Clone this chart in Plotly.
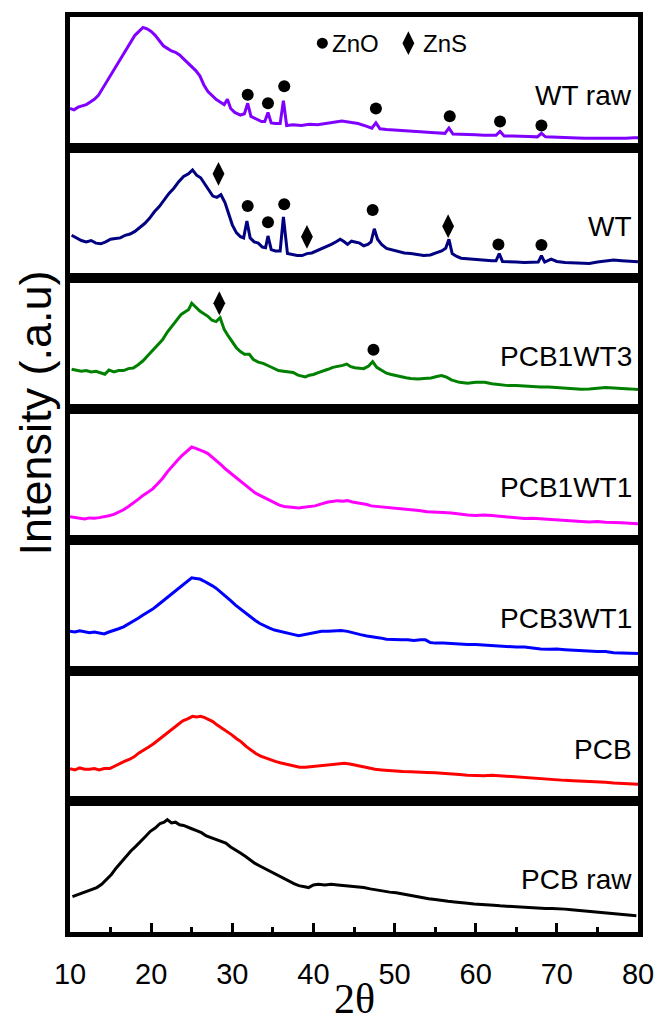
import plotly.graph_objects as go
from plotly.subplots import make_subplots

# ---------------- data (2theta, normalised intensity a.u.) ----------------
wtraw_x = [10, 10.5, 11, 11.5, 12, 12.5, 13, 13.5, 14, 14.5, 15, 15.5, 16, 16.5, 17, 17.5, 18, 18.5, 19, 19.5,
           20, 20.5, 21, 21.5, 22, 22.5, 23, 23.5, 24, 24.5, 25, 25.5, 26, 26.5, 27, 27.5, 28, 28.5, 29, 29.4,
           29.8, 30.3, 31, 31.5, 31.9, 32.3, 33, 33.6, 34, 34.4, 34.8, 35.3, 35.9, 36.3, 36.7, 37.5, 38.5, 39.5,
           40.5, 41.5, 42.5, 43.5, 44.5, 45.5, 46.5, 47.2, 47.7, 48.2, 49, 50, 51, 52, 53, 54, 55, 56.2, 56.7,
           57.2, 58, 59, 60, 61, 62.5, 63, 63.5, 64.5, 65.5, 66.5, 67.6, 68.1, 68.6, 69.5, 70.5, 71.5, 72.5,
           73.5, 74.5, 75.5, 76.5, 77.5, 78.5, 79.5, 80]
wtraw_y = [30, 29, 31, 32, 33, 35, 37, 40, 45, 50, 55, 60, 66, 71, 76, 81, 86, 89, 92, 91,
           89, 86, 82, 78, 76, 74, 73, 71, 68, 65, 62, 59, 55, 48, 43, 40, 37, 35, 33, 37,
           30, 27, 25, 26, 34, 24, 22, 20, 20, 27, 19, 18.5, 18.5, 36, 17, 17.5, 17, 18,
           17.5, 18.5, 19, 20.5, 19.5, 18.5, 16.5, 15, 19, 14.5, 14, 13.5, 13, 12.5, 12, 12, 11.5, 11, 15,
           10.5, 10.5, 10, 10, 9.5, 9.5, 12.5, 9, 9, 8.5, 8.5, 8.3, 11, 8.3, 8, 8, 7.8, 7.5,
           7.3, 7.3, 7, 7, 7.2, 7.3, 7.6, 7.6]

wt_x = [10.2, 10.8, 11.4, 12, 12.6, 13.2, 13.8, 14.4, 15, 15.6, 16.2, 16.8, 17.4, 18, 18.6, 19.2, 19.8, 20.4,
        21, 21.6, 22.2, 22.8, 23.4, 24, 24.6, 25.1, 25.6, 26.1, 26.6, 27.1, 27.6, 28.1, 28.6, 29.1, 29.5, 30,
        30.5, 31, 31.4, 31.8, 32.2, 32.7, 33.2, 33.7, 34.1, 34.4, 34.8, 35.3, 35.9, 36.3, 36.8, 37.4, 38, 38.6,
        39.2, 39.8, 40.4, 41, 41.6, 42.2, 42.8, 43.3, 43.8, 44.2, 44.7, 45.2, 45.7, 46.2, 46.7, 47.1, 47.5,
        47.9, 48.4, 49, 49.6, 50.4, 51.2, 52, 52.8, 53.6, 54.4, 55.2, 55.8, 56.3, 56.7, 57.1, 57.6, 58.2, 59,
        60, 61, 62, 62.5, 62.9, 63.3, 64, 65, 66, 67, 67.7, 68.1, 68.5, 69.3, 70, 71, 72, 73, 74, 75, 76, 77,
        78, 79, 80]
wt_y = [33, 31, 29, 28, 29, 27, 26.5, 28, 30, 30.5, 31, 33, 34, 36, 39, 42, 46, 51,
        55, 60, 65, 69, 74, 78, 80, 83, 79, 77, 72, 68, 63, 62, 64, 58, 50, 41,
        35, 32, 31, 44, 31, 28, 27, 24, 23.5, 32.5, 22, 21, 21, 47, 19, 18, 17.5, 17.5,
        19, 19.5, 21, 22.5, 24, 26, 28, 30, 28, 26, 28.5, 27.5, 27, 25, 26, 28, 38,
        30, 26, 23, 22, 21, 19.5, 19, 18.5, 17.5, 18, 19.5, 21, 23, 30, 19, 17, 15.5, 15,
        14.5, 14, 13.5, 13.5, 19, 13, 13, 12.5, 12.2, 12.5, 12.5, 17.3, 12.5, 14.7, 13, 12.2, 12, 11.5, 11.5,
        12.5, 13.5, 14, 13.5, 13, 12.7]

p13_x = [10.2, 10.8, 11.4, 12, 12.6, 13.2, 13.8, 14.3, 14.8, 15.4, 16, 16.6, 17.2, 17.8, 18.4, 19, 19.6, 20.2,
         20.8, 21.4, 22, 22.6, 23.2, 23.7, 24.2, 24.6, 25, 25.5, 26, 26.5, 27, 27.5, 28, 28.5, 29, 29.5, 30,
         30.5, 31, 31.5, 32.1, 32.6, 33.2, 33.8, 34.5, 35.1, 35.7, 36.3, 36.9, 37.5, 38.1, 38.6, 39, 39.5, 40,
         40.6, 41.2, 41.8, 42.4, 43, 43.6, 44.1, 44.6, 45.1, 45.7, 46.2, 46.8, 47.3, 47.8, 48.4, 49, 49.6, 50.2,
         50.8, 51.4, 52, 52.9, 53.6, 54.5, 55.2, 55.8, 56.4, 57, 58, 59, 60, 61.1, 62, 63, 64, 65, 66, 67, 68,
         69, 70, 71, 72, 73, 74, 75, 76, 77, 78, 79, 80]
p13_y = [30.5, 30, 29, 29.5, 28.5, 29, 27.5, 26.7, 30, 28.5, 29.5, 29.5, 31, 31.5, 34, 37, 41, 45,
         49, 53, 59, 64, 69, 72.5, 74.5, 76, 81, 78, 75, 73, 71, 68, 67, 70, 61, 56, 51,
         47, 44, 42, 42, 38, 36, 35, 33, 31, 29.5, 29, 28.5, 28, 26, 25, 24.7, 26, 26.5,
         28, 29, 30.5, 32, 32.5, 33.5, 34.5, 32.5, 31.7, 31.5, 31, 33, 36.3, 32, 29.5, 27.5, 26.5, 25.5,
         24.5, 24, 23.5, 23, 23.5, 23.8, 25, 25.7, 24.5, 22.4, 20.5, 19.8, 20.5, 20.5, 19.5, 18.5, 18, 18,
         17.5, 17.5, 17, 17, 16.5, 16, 15.5, 15.2, 15.5, 16, 16.5, 16.2, 16, 15.5, 15]

p11_x = [10, 10.6, 11.2, 11.8, 12.4, 13, 13.6, 14.2, 14.8, 15.4, 16, 16.6, 17.2, 17.8, 18.4, 19, 19.6, 20.2,
         20.8, 21.4, 22, 22.6, 23.2, 23.8, 24.4, 25, 25.5, 26, 26.5, 27, 27.5, 28, 28.6, 29.2, 29.8, 30.4, 31,
         31.6, 32.2, 32.8, 33.4, 34, 34.6, 35.2, 35.8, 36.4, 37, 37.6, 38.2, 38.8, 39.4, 40.2, 41, 41.8, 42.5,
         43, 43.6, 44.2, 44.8, 45.4, 46, 46.6, 47.1, 48, 49, 50, 51, 52, 53, 54, 55, 56, 57, 58, 59, 60, 61,
         62, 63, 64, 65, 66, 67, 68, 69, 70, 71, 72, 73, 74, 75, 76, 77, 78, 79, 80]
p11_y = [17.6, 17, 16.5, 16, 16.8, 16.5, 17, 17.5, 18.5, 19.5, 21, 23, 25.5, 28, 31, 34, 36.5, 39,
         43, 47, 52, 56.5, 60.5, 64.5, 68, 71, 70, 69, 67.5, 66, 63.5, 61, 57.5, 54, 51, 48, 45,
         42, 39, 36, 34, 32, 30, 28, 26.5, 25.5, 25, 24.5, 24.4, 25, 25.5, 26, 27.5, 29, 29.5,
         30, 29.5, 30, 29, 28.5, 27.5, 27, 26, 25.5, 24.5, 24.4, 23.5, 23, 22.5, 21.5, 21.5, 21, 20.5, 19.5,
         19, 18.6, 19, 18.6, 18, 17.5, 17, 16.3, 16.5, 16, 15.5, 15, 14.7, 14.5, 14, 13.7, 14, 13.5, 13,
         13, 12.7, 12.4]

p31_x = [10, 10.6, 11.2, 11.8, 12.4, 13, 13.6, 14.2, 14.8, 15.4, 16, 16.6, 17.2, 17.8, 18.4, 19, 19.6, 20.2,
         20.8, 21.4, 22, 22.6, 23.2, 23.8, 24.4, 25, 25.5, 26, 26.5, 27, 27.5, 28, 28.6, 29.2, 29.8, 30.4, 31,
         31.6, 32.2, 32.8, 33.4, 34, 34.6, 35.2, 35.8, 36.4, 37, 37.6, 38.2, 38.8, 39.4, 40.2, 41, 41.8, 42.6,
         43.4, 44.2, 45, 45.8, 46.6, 47.4, 48.2, 49, 49.9, 50.8, 51.6, 52.4, 53.2, 53.8, 54.4, 55, 56, 57, 58,
         59, 60, 61, 62, 63, 64, 65, 66, 67, 68, 69, 70, 71, 72, 73, 74, 75, 76, 77, 78, 79, 80]
p31_y = [30, 29.5, 30.5, 29.5, 29, 29.5, 28.5, 28, 29.5, 30.5, 32, 33.5, 35.5, 37.5, 40, 42.5, 44.5, 47,
         50, 53, 56, 59.5, 62.5, 65.5, 68, 71, 70.5, 70, 68.5, 67, 65, 63, 60, 56.5, 53.5, 50, 47,
         44, 41, 38.5, 36, 34, 32.5, 31, 30, 29, 28, 27.5, 26.7, 27.5, 28, 29, 30, 30, 30.5,
         30.6, 30, 28.5, 27.5, 26.5, 26, 25, 24, 23.5, 23.5, 23.5, 23, 23.5, 23.5, 21.5, 21, 21, 20.5, 20,
         20, 20, 19.5, 19.5, 19, 18.5, 18, 18, 17, 16.5, 16.3, 16.5, 16, 15.5, 15.3, 15, 14.5, 14.5, 13.7,
         13.5, 13.5, 13]

pcb_x = [10, 10.6, 11.2, 11.8, 12.4, 13, 13.6, 14.2, 14.9, 15.5, 16.1, 16.7, 17.3, 17.9, 18.5, 19.1, 19.7,
         20.3, 20.9, 21.5, 22.1, 22.7, 23.3, 23.9, 24.5, 25.1, 25.6, 26.1, 26.6, 27.1, 27.6, 28.1, 28.7, 29.3,
         29.9, 30.5, 31.1, 31.7, 32.3, 32.9, 33.5, 34.1, 34.7, 35.3, 35.9, 36.5, 37.1, 37.7, 38.3, 39, 39.8,
         40.6, 41.4, 42.2, 43, 43.8, 44.5, 45.2, 46, 46.8, 47.6, 48.4, 49.2, 50, 51, 52, 53, 54, 55, 56, 57,
         58, 59, 60, 61, 62, 63, 64, 65, 66, 67, 68, 69, 70, 71, 72, 73, 74, 75, 76, 77, 78, 79, 80]
pcb_y = [25, 24, 25.5, 24.5, 24.5, 25, 24, 25, 25, 27, 29, 30.5, 32, 34, 37, 39, 41.5,
         44, 47, 50, 53, 56, 59, 61.5, 63, 65, 64.5, 65, 64, 62.5, 61, 58.5, 56, 54,
         51, 48, 45.5, 42, 39, 36.5, 34.5, 33, 31.5, 30.5, 29.5, 28.5, 27.5, 26.5, 26, 26, 26.5,
         26.6, 27.5, 28, 28.5, 29, 28.5, 27.5, 26.5, 25.5, 24.5, 24, 23.5, 23.2, 22.7, 22.5, 22.5, 22, 21.8,
         21.5, 21, 20.5, 20, 19.5, 19.5, 20, 19.5, 19, 18.5, 18, 17.5, 17.5, 17, 16.5, 16, 15.7, 15.5, 15,
         14.7, 14.5, 14, 13.5, 13.5, 13]

pcbraw_x = [10.3, 10.9, 11.5, 12.1, 12.7, 13.3, 13.9, 14.5, 15.1, 15.7, 16.3, 16.9, 17.5, 18.1, 18.7, 19.3,
            19.9, 20.5, 21.1, 21.6, 22, 22.5, 23, 23.5, 24, 24.5, 25, 25.6, 26.2, 26.8, 27.4, 28, 28.6, 29.2,
            29.8, 30.4, 31, 31.6, 32.2, 32.8, 33.4, 34, 34.6, 35.2, 35.8, 36.4, 37, 37.6, 38.2, 38.8, 39.4, 40,
            40.6, 41.4, 42.2, 43, 43.8, 44.6, 45.4, 46.2, 47, 47.8, 48.6, 49.4, 50.2, 51, 51.8, 52.6, 53.4,
            54.2, 55, 55.8, 56.6, 57.4, 58.2, 59, 59.8, 60.6, 61.4, 62.2, 63, 63.8, 64.6, 65.4, 66.2, 67, 67.8,
            68.6, 69.4, 70.2, 71, 71.8, 72.6, 73.4, 74.2, 75, 75.8, 76.6, 77.4, 78.2, 79, 79.8]
pcbraw_y = [27, 28.5, 30, 31, 32.5, 34, 36.5, 40, 44, 49, 53.5, 58, 62, 65.5, 69, 73,
            77, 79.5, 83, 84, 86, 83.5, 84, 82, 81.5, 80, 79, 77.5, 76, 73.5, 72, 70.5, 69, 68,
            65, 63, 60.5, 58, 55, 52.5, 50.5, 48.5, 47, 45, 43, 41, 39, 37, 35.5, 34.5, 34, 36,
            36.6, 36, 36.5, 36, 35.5, 35.5, 34.5, 34, 33, 32, 31.5, 30.5, 30, 29, 28.5, 27.5, 26.5,
            25.5, 24.8, 24, 23.5, 23, 22.3, 22, 21.5, 21.3, 21, 20.5, 20, 19.7, 19.5, 19, 18.5, 18.2, 18,
            18, 18, 18, 17.5, 17, 16.5, 16, 15.5, 15.3, 14.8, 14.3, 14, 13.5, 13, 12.5]

series_names = ["WT raw", "WT", "PCB1WT3", "PCB1WT1", "PCB3WT1", "PCB", "PCB raw"]
series_x = [wtraw_x, wt_x, p13_x, p11_x, p31_x, pcb_x, pcbraw_x]
series_y = [wtraw_y, wt_y, p13_y, p11_y, p31_y, pcb_y, pcbraw_y]
series_colors = ["#8000FF", "#000080", "#008000", "#FF00FF", "#0000FF", "#FF0000", "#000000"]

# phase markers: panel index, 2theta, height
zno_panel = [1, 1, 1, 1, 1, 1, 1, 2, 2, 2, 2, 2, 2, 3]
zno_x = [31.9, 34.4, 36.4, 47.7, 56.8, 63.0, 68.1, 31.9, 34.4, 36.4, 47.3, 62.8, 68.1, 47.4]
zno_y = [40.5, 34, 47, 30, 24, 20, 17, 55.5, 43, 56.7, 52.4, 26, 25.5, 45.5]
zns_panel = [2, 2, 2, 3]
zns_x = [28.3, 39.2, 56.6, 28.4]
zns_y = [80, 31.8, 40, 81]

x_ticks = [10, 20, 30, 40, 50, 60, 70, 80]

# ---------------- figure ----------------
fig = make_subplots(rows=7, cols=1, shared_xaxes=True, vertical_spacing=0)

for i, (name, xs, ys, col) in enumerate(zip(series_names, series_x, series_y, series_colors)):
    fig.add_trace(go.Scatter(x=xs, y=ys, mode="lines", name=name,
                             line=dict(color=col, width=3)), row=i + 1, col=1)

for p in range(1, 8):
    zx = [x for pp, x in zip(zno_panel, zno_x) if pp == p]
    zy = [y for pp, y in zip(zno_panel, zno_y) if pp == p]
    if zx:
        fig.add_trace(go.Scatter(x=zx, y=zy, mode="markers",
                                 marker=dict(symbol="circle", size=12, color="black"),
                                 showlegend=False), row=p, col=1)
    sx = [x for pp, x in zip(zns_panel, zns_x) if pp == p]
    sy = [y for pp, y in zip(zns_panel, zns_y) if pp == p]
    if sx:
        fig.add_trace(go.Scatter(x=sx, y=sy, mode="markers",
                                 marker=dict(symbol="diamond-tall", size=17, color="black"),
                                 showlegend=False), row=p, col=1)

# legend symbols in top panel
fig.add_trace(go.Scatter(x=[41.1], y=[80], mode="markers",
                         marker=dict(symbol="circle", size=11, color="black"), showlegend=False), row=1, col=1)
fig.add_trace(go.Scatter(x=[51.7], y=[80], mode="markers",
                         marker=dict(symbol="diamond-tall", size=17, color="black"), showlegend=False), row=1, col=1)

lab_font = dict(family="Liberation Sans, Arial", size=28, color="black")
for i, name in enumerate(series_names):
    fig.add_annotation(x=80, y=40, xref=f"x{i+1}" if i else "x", yref=f"y{i+1}" if i else "y",
                       text=name, showarrow=False, xanchor="right", yanchor="middle", xshift=-4,
                       font=lab_font)

leg_font = dict(family="Liberation Sans, Arial", size=24, color="black")
fig.add_annotation(x=42.1, y=80, xref="x", yref="y", text="ZnO", showarrow=False,
                   xanchor="left", yanchor="middle", font=leg_font)
fig.add_annotation(x=53.3, y=80, xref="x", yref="y", text="ZnS", showarrow=False,
                   xanchor="left", yanchor="middle", font=leg_font)

fig.add_annotation(x=-0.061, y=0.567, xref="paper", yref="paper", text="Intensity (.a.u)",
                   textangle=-90, showarrow=False, xanchor="center", yanchor="middle",
                   font=dict(family="Liberation Sans, Arial", size=45, color="black"))
fig.add_annotation(x=0.5, y=-0.073, xref="paper", yref="paper", text="2θ",
                   showarrow=False, xanchor="center", yanchor="middle",
                   font=dict(family="Liberation Serif, Times New Roman", size=42, color="black"))

for r in range(1, 8):
    fig.update_yaxes(range=[0, 100], showticklabels=False, ticks="", showgrid=False, zeroline=False,
                     showline=True, mirror=True, linewidth=5, linecolor="black", row=r, col=1)
    fig.update_xaxes(range=[10, 80], showgrid=False, zeroline=False, showline=True, mirror=True,
                     linewidth=5, linecolor="black", ticks="", showticklabels=False, row=r, col=1)

fig.update_xaxes(ticks="inside", ticklen=9, tickwidth=3, tickcolor="black", tickvals=x_ticks,
                 showticklabels=True, ticklabelstandoff=12,
                 tickfont=dict(family="Liberation Sans, Arial", size=29, color="black"),
                 minor=dict(ticks="inside", dtick=5, tick0=5, ticklen=5, tickwidth=3, tickcolor="black"),
                 row=7, col=1)

fig.update_layout(width=666, height=1027, margin=dict(l=70, r=25, t=13, b=95),
                  paper_bgcolor="white", plot_bgcolor="white", showlegend=False)

fig.write_html("out.html")
